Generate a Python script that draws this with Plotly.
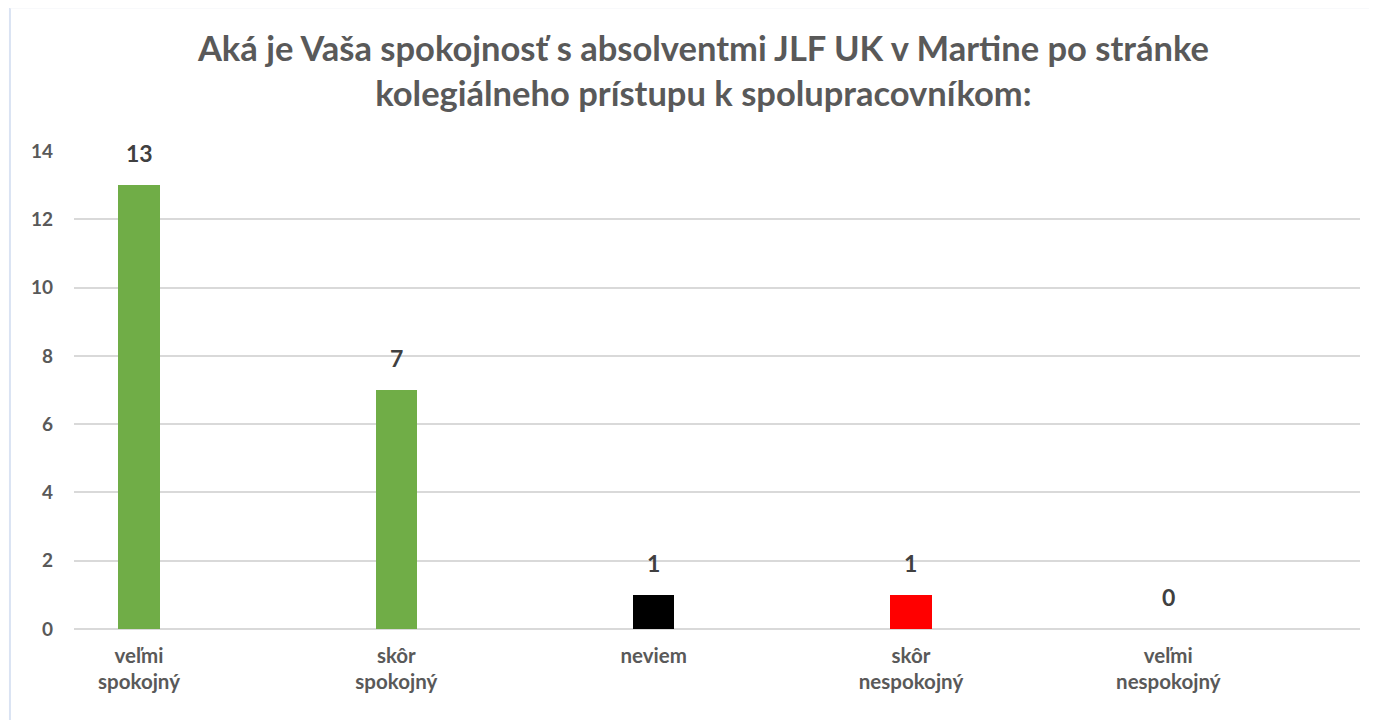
import plotly.graph_objects as go

categories = ["veľmi<br>spokojný", "skôr<br>spokojný", "neviem", "skôr<br>nespokojný", "veľmi<br>nespokojný"]
values = [13, 7, 1, 1, 0]
bar_colors = ["#70AD47", "#70AD47", "#000000", "#FF0000", "#70AD47"]
y_ticks = [0, 2, 4, 6, 8, 10, 12, 14]
title_text = "Aká je Vaša spokojnosť s absolventmi JLF UK v Martine po stránke<br>kolegiálneho prístupu k spolupracovníkom:"

FONT = "Lato, 'Open Sans', sans-serif"
positions = list(range(len(categories)))

fig = go.Figure()
fig.add_trace(go.Bar(
    x=positions, y=values, marker_color=bar_colors, width=0.16,
    marker_line_width=0, hoverinfo="skip"
))

for xp, v in zip(positions, values):
    fig.add_annotation(x=xp, y=v, text=f"<b>{v}</b>", showarrow=False,
                       yshift=32, font=dict(family=FONT, size=23, color="#404040"))

fig.add_shape(type="line", xref="paper", yref="paper", x0=-0.0498, x1=-0.0498, y0=-0.25, y1=1.35,
              line=dict(color="#DAE3F3", width=2))
fig.add_shape(type="line", xref="paper", yref="paper", x0=-0.0498, x1=1.03, y0=1.3, y1=1.3,
              line=dict(color="#F2F4F8", width=2))

fig.update_layout(
    width=1377, height=720,
    margin=dict(l=66, r=25, t=143, b=99),
    paper_bgcolor="white", plot_bgcolor="white",
    title=dict(text=f"<b>{title_text}</b>", x=0.505, xanchor="center", y=0.926, yanchor="top",
               font=dict(family=FONT, size=34.5, color="#595959")),
    showlegend=False,
    bargap=0,
)
fig.update_xaxes(
    range=[-0.2526, 4.745], tickvals=positions, ticktext=[f"<b>{c}</b>" for c in categories],
    showgrid=False, zeroline=False, showline=False, ticks="", ticklabelstandoff=12,
    tickfont=dict(family=FONT, size=20.5, color="#595959"), fixedrange=True,
)
fig.update_yaxes(
    range=[0, 14], tickvals=y_ticks, ticktext=[f"<b>{t}</b>" for t in y_ticks],
    showgrid=True, gridcolor="#D9D9D9", gridwidth=1.5, zeroline=True, zerolinecolor="#D9D9D9",
    zerolinewidth=1.5, showline=False, ticks="", ticklabelstandoff=20,
    tickfont=dict(family=FONT, size=19, color="#595959"), fixedrange=True,
)
fig.write_html("out.html")
